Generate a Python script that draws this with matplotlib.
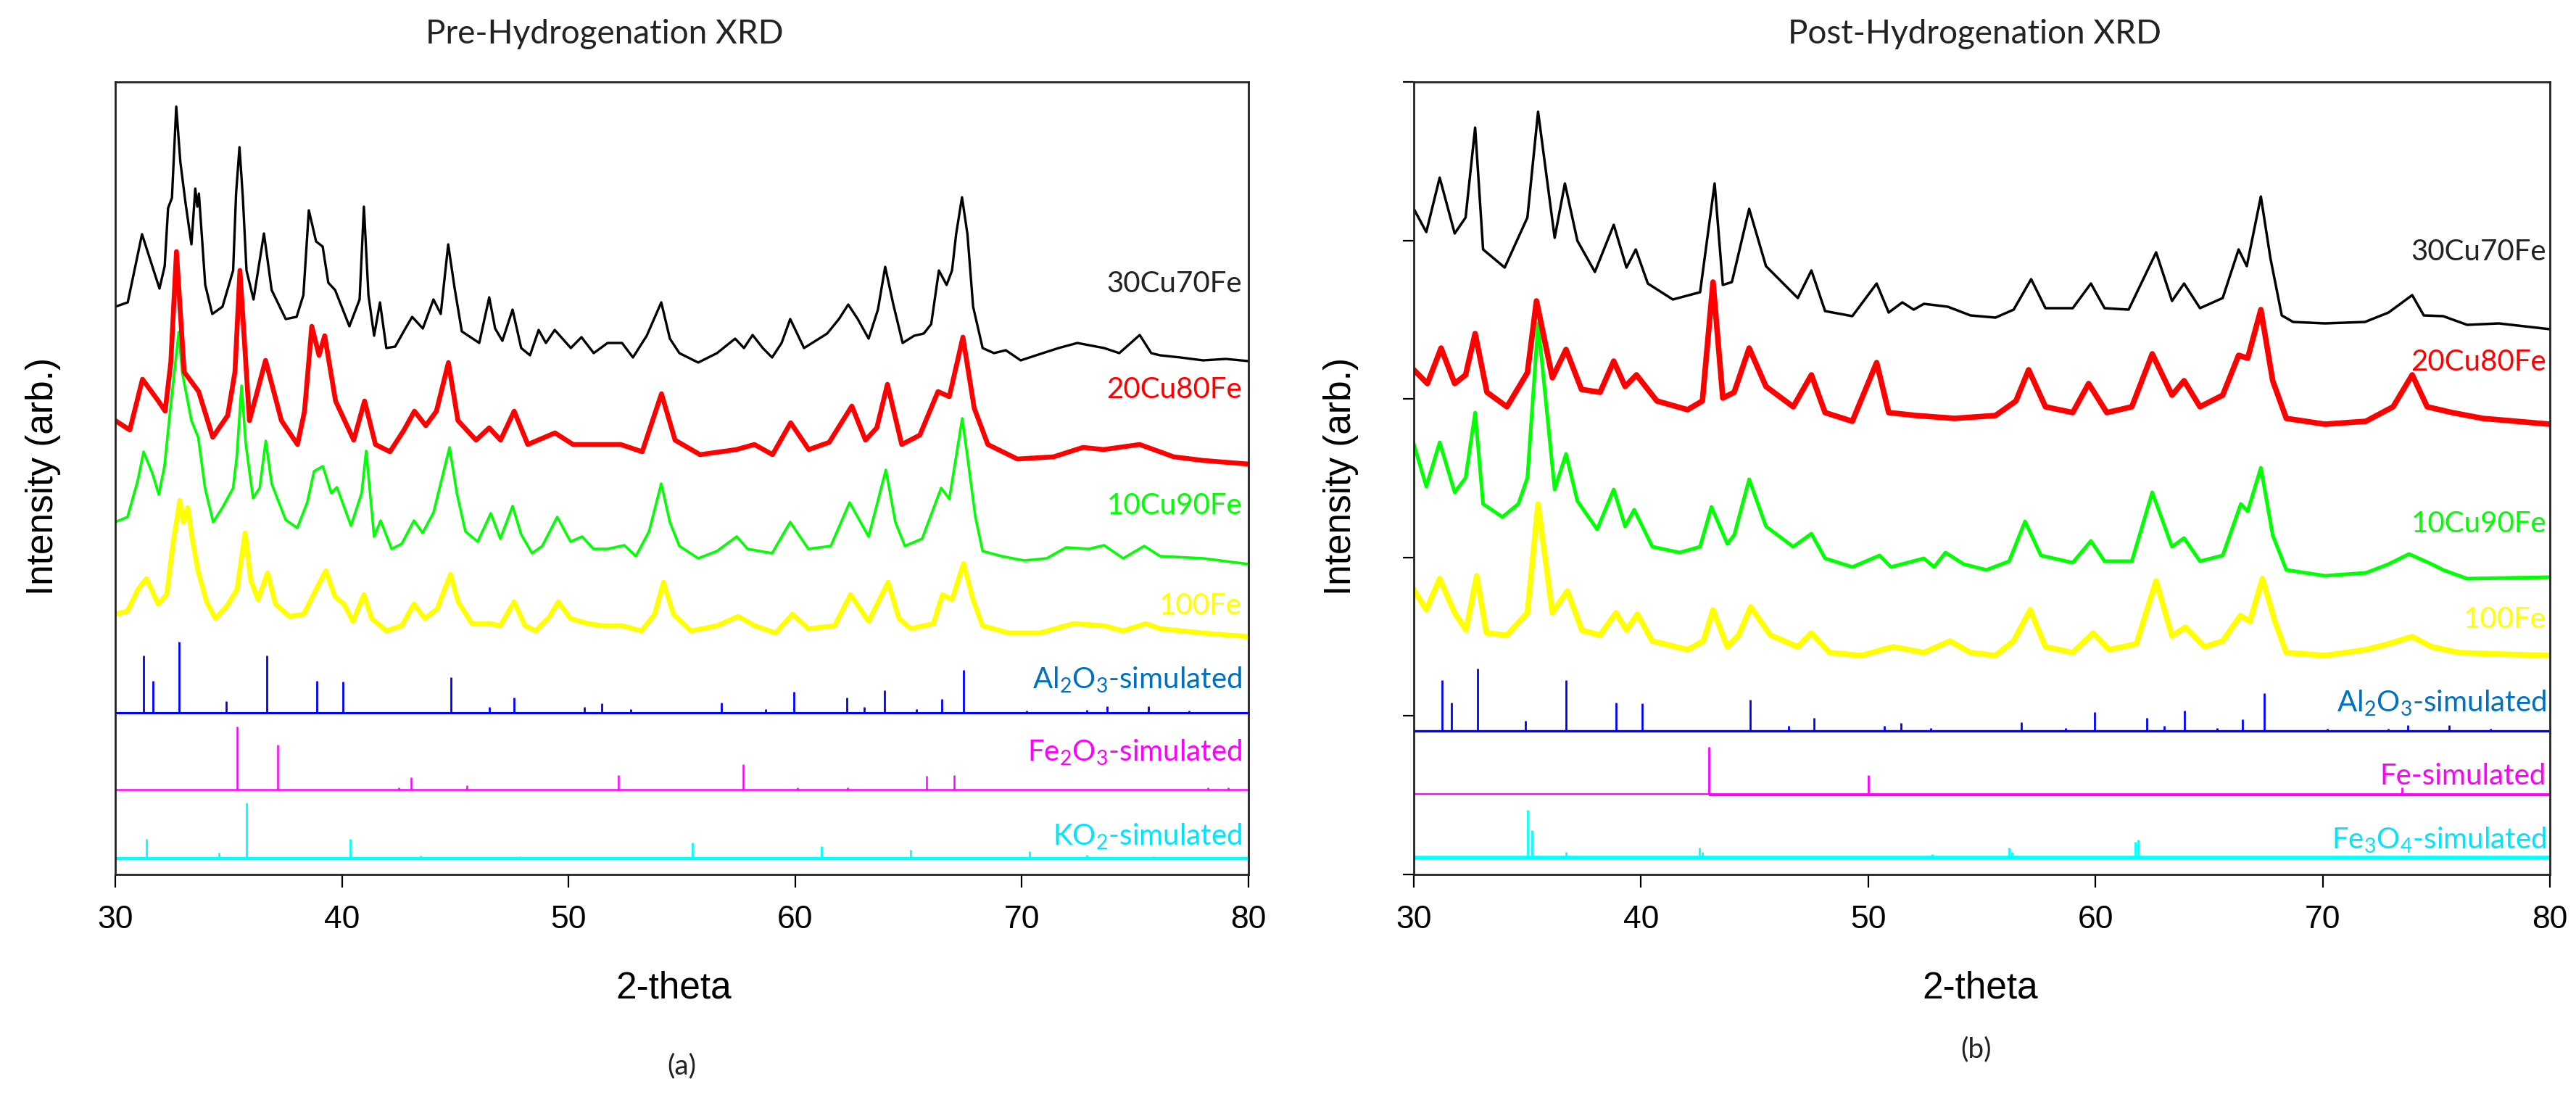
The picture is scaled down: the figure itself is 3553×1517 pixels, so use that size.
import matplotlib
matplotlib.use("Agg")
import matplotlib.pyplot as plt

plt.rcParams['font.family'] = ['Liberation Sans', 'DejaVu Sans']
plt.rcParams['mathtext.default'] = 'regular'

# ---------------- Panel (a): Pre-hydrogenation (2-theta, intensity in arb. counts incl. stacking) ----
pre_30Cu_x = [30.0, 30.55, 31.18, 31.95, 32.18, 32.33, 32.5, 32.69, 32.87, 33.1, 33.36, 33.53, 33.62, 33.69,
              33.97, 34.28, 34.73, 35.2, 35.33, 35.48, 35.63, 35.79, 36.1, 36.56, 36.9, 37.52, 38.0, 38.3,
              38.54, 38.86, 39.15, 39.4, 39.7, 40.33, 40.78, 40.97, 41.17, 41.42, 41.68, 41.96, 42.35, 42.8,
              43.1, 43.57, 44.04, 44.36, 44.69, 44.97, 45.29, 46.06, 46.5, 46.76, 47.08, 47.53, 47.91, 48.3,
              48.68, 49.0, 49.39, 50.1, 50.57, 51.11, 51.72, 52.36, 52.84, 53.45, 54.09, 54.47, 54.89, 55.72,
              56.55, 57.35, 57.74, 58.12, 58.57, 58.98, 59.4, 59.78, 60.39, 61.41, 61.93, 62.34, 62.76, 63.24,
              63.65, 63.97, 64.33, 64.74, 65.25, 65.67, 66.0, 66.34, 66.68, 66.92, 67.1, 67.36, 67.6, 67.85,
              68.27, 68.77, 69.29, 69.95, 70.63, 71.62, 72.45, 73.63, 74.3, 75.2, 75.71, 76.1, 77.0, 78.0,
              79.0, 80.0]
pre_30Cu_y = [783, 789, 883, 808, 839, 919, 933, 1059, 983, 926, 869, 946, 921, 939,
              813, 773, 783, 833, 939, 1003, 933, 833, 793, 884, 806, 766, 769, 799,
              916, 873, 866, 816, 806, 756, 793, 921, 799, 743, 789, 726, 728, 753,
              769, 753, 793, 773, 869, 809, 749, 733, 796, 753, 736, 779, 726, 716,
              751, 733, 751, 726, 741, 719, 733, 733, 713, 743, 789, 739, 719, 706,
              719, 739, 726, 744, 726, 713, 733, 766, 726, 746, 766, 786, 766, 739,
              779, 838, 786, 733, 743, 746, 759, 833, 813, 833, 883, 934, 883, 783,
              726, 719, 723, 709, 716, 726, 733, 726, 719, 744, 719, 716, 713, 709,
              711, 708]

pre_20Cu_x = [30.0, 30.64, 31.2, 31.9, 32.2, 32.45, 32.7, 33.04, 33.68, 34.3, 34.96, 35.28, 35.5, 35.92,
              36.24, 36.63, 37.33, 38.04, 38.35, 38.67, 38.99, 39.24, 39.72, 40.52, 41.0, 41.48, 42.12,
              42.74, 43.2, 43.7, 44.17, 44.7, 45.12, 45.92, 46.5, 47.0, 47.6, 48.2, 49.4, 50.2, 51.0, 52.3,
              53.25, 54.1, 54.7, 55.8, 57.4, 58.2, 59.0, 59.8, 60.6, 61.5, 62.5, 63.1, 63.6, 64.07, 64.7,
              65.5, 66.3, 66.8, 67.4, 67.9, 68.5, 69.8, 71.4, 72.7, 73.6, 75.2, 76.7, 78.0, 80.0]
pre_20Cu_y = [626, 613, 683, 653, 639, 706, 859, 693, 666, 603, 633, 693, 833, 626,
              663, 709, 626, 593, 639, 756, 716, 743, 653, 599, 653, 593, 583,
              613, 639, 619, 639, 706, 626, 599, 616, 599, 639, 593, 609, 593, 593, 593,
              583, 663, 599, 579, 586, 593, 579, 623, 586, 596, 646, 599, 616, 676, 593,
              606, 666, 659, 741, 643, 593, 573, 576, 589, 586, 593, 576, 571, 566]

pre_10Cu_x = [30.0, 30.54, 30.99, 31.25, 31.64, 31.92, 32.17, 32.4, 32.8, 32.95, 33.36, 33.66, 33.96,
              34.32, 34.73, 35.2, 35.36, 35.57, 35.76, 36.08, 36.37, 36.64, 36.9, 37.52, 38.03, 38.47,
              38.77, 39.16, 39.53, 39.78, 40.4, 40.87, 41.07, 41.42, 41.71, 42.19, 42.64, 43.18, 43.56,
              44.04, 44.75, 45.07, 45.45, 45.99, 46.57, 46.99, 47.53, 47.91, 48.39, 48.84, 49.5, 50.09,
              50.6, 51.1, 51.72, 52.46, 52.97, 53.55, 54.09, 54.47, 54.89, 55.72, 56.55, 57.42, 57.9,
              58.98, 59.78, 60.58, 61.57, 62.4, 63.24, 64.0, 64.42, 64.84, 65.6, 66.44, 66.8, 67.37,
              67.6, 67.95, 68.27, 69.1, 70.1, 71.1, 71.95, 72.96, 73.63, 74.47, 75.4, 76.1, 78.0, 80.0]
pre_10Cu_y = [486, 493, 543, 583, 553, 524, 563, 633, 748, 693, 626, 603, 533,
              486, 506, 533, 576, 674, 593, 519, 533, 598, 539, 489, 478, 513,
              556, 563, 526, 534, 481, 526, 584, 466, 488, 449, 456, 488, 471,
              499, 589, 526, 473, 459, 498, 463, 508, 469, 443, 453, 493, 459,
              466, 449, 449, 454, 439, 473, 539, 486, 453, 436, 446, 466, 449,
              443, 486, 449, 453, 513, 466, 558, 486, 453, 463, 533, 518, 629,
              576, 493, 446, 439, 433, 436, 451, 449, 454, 436, 453, 439, 436, 428]

pre_100Fe_x = [30.0, 30.54, 31.0, 31.37, 31.6, 31.89, 32.27, 32.56, 32.85, 33.0, 33.2, 33.42, 33.65,
               34.03, 34.42, 34.9, 35.37, 35.73, 35.98, 36.3, 36.72, 37.07, 37.68, 38.32, 38.86, 39.29,
               39.7, 40.09, 40.49, 40.97, 41.32, 41.96, 42.64, 43.18, 43.66, 44.2, 44.79, 45.13, 45.74,
               46.54, 46.99, 47.6, 48.08, 48.55, 49.17, 49.55, 50.09, 50.86, 51.53, 52.36, 53.22, 53.8,
               54.19, 54.63, 55.4, 56.55, 57.48, 58.22, 59.14, 59.88, 60.58, 61.74, 62.44, 63.24, 64.1,
               64.58, 65.1, 66.1, 66.5, 66.92, 67.43, 67.85, 68.27, 69.44, 70.79, 72.28, 73.63, 74.47,
               75.47, 76.1, 78.0, 80.0]
pre_100Fe_y = [359, 363, 393, 408, 393, 373, 386, 459, 516, 486, 506, 459, 419,
               376, 353, 369, 393, 471, 406, 379, 416, 373, 356, 359, 393, 419,
               383, 373, 349, 386, 353, 336, 343, 373, 353, 366, 414, 376, 346,
               346, 343, 376, 343, 336, 356, 376, 353, 346, 343, 343, 336, 359,
               403, 359, 336, 343, 356, 343, 333, 359, 339, 343, 386, 349, 403,
               353, 339, 346, 386, 379, 429, 379, 343, 333, 333, 346, 343, 336,
               346, 339, 333, 328]

# ---------------- Panel (b): Post-hydrogenation ----
post_30Cu_x = [30.0, 30.55, 31.14, 31.8, 32.28, 32.7, 33.05, 34.0, 35.0, 35.47, 36.2, 36.65, 37.2, 37.97,
               38.8, 39.36, 39.77, 40.3, 41.4, 42.6, 43.24, 43.6, 44.0, 44.76, 45.5, 46.9, 47.5, 48.1,
               49.3, 50.37, 50.9, 51.5, 52.0, 52.45, 53.5, 54.5, 55.6, 56.4, 57.17, 57.8, 59.0, 59.8,
               60.4, 61.46, 62.67, 63.37, 63.9, 64.6, 65.6, 66.3, 66.66, 67.28, 67.7, 68.2, 68.7, 70.1,
               71.86, 72.9, 73.94, 74.45, 75.3, 76.36, 77.75, 80.0]
post_30Cu_y = [918, 886, 961, 884, 906, 1030, 862, 837, 906, 1052, 878, 953, 874, 831,
               896, 837, 862, 815, 793, 803, 953, 813, 817, 918, 839, 795, 833, 777,
               770, 815, 775, 789, 779, 787, 783, 771, 768, 779, 821, 781, 781, 815,
               781, 779, 858, 791, 815, 781, 795, 862, 839, 935, 850, 771, 762, 760,
               762, 775, 799, 771, 770, 758, 760, 752]

post_20Cu_x = [30.0, 30.6, 31.2, 31.8, 32.28, 32.7, 33.22, 34.1, 35.0, 35.4, 36.1, 36.7, 37.38, 38.2,
               38.8, 39.3, 39.8, 40.7, 42.05, 42.7, 43.17, 43.6, 44.1, 44.76, 45.5, 46.7, 47.5, 48.1,
               49.3, 50.37, 50.9, 52.1, 53.8, 55.6, 56.5, 57.06, 57.8, 59.0, 59.7, 60.5, 61.6, 62.5,
               63.37, 63.9, 64.6, 65.6, 66.3, 66.7, 67.28, 67.8, 68.4, 70.1, 71.9, 73.1, 73.94, 74.6,
               75.7, 77.05, 80.0]
post_20Cu_y = [696, 677, 726, 677, 689, 746, 665, 645, 692, 791, 685, 724, 669, 665,
               708, 673, 689, 653, 641, 653, 817, 657, 665, 726, 673, 645, 689, 637,
               625, 706, 637, 633, 629, 633, 653, 696, 645, 637, 677, 637, 645, 718,
               661, 681, 645, 661, 716, 712, 779, 681, 629, 621, 625, 645, 689, 645,
               637, 629, 621]

post_10Cu_x = [30.0, 30.55, 31.14, 31.8, 32.28, 32.7, 33.05, 33.9, 34.6, 35.0, 35.47, 36.2, 36.7, 37.2,
               38.07, 38.8, 39.3, 39.7, 40.5, 41.7, 42.6, 43.1, 43.8, 44.1, 44.76, 45.5, 46.7, 47.5,
               48.1, 49.3, 50.5, 51.0, 52.45, 52.9, 53.4, 54.2, 55.2, 56.2, 56.9, 57.6, 59.0, 59.8,
               60.4, 61.6, 62.5, 63.37, 63.9, 64.6, 65.6, 66.4, 66.7, 67.28, 67.8, 68.4, 70.1, 71.9,
               72.9, 73.8, 74.8, 75.3, 76.36, 80.0]
post_10Cu_y = [594, 535, 596, 527, 547, 637, 511, 493, 511, 547, 760, 531, 580, 515,
               476, 531, 480, 503, 452, 444, 452, 507, 456, 468, 545, 480, 452, 470,
               436, 424, 440, 424, 436, 424, 444, 428, 420, 432, 487, 440, 430, 460,
               432, 432, 527, 452, 464, 432, 440, 511, 501, 561, 468, 420, 412, 416,
               428, 442, 428, 420, 408, 410]

post_100Fe_x = [30.0, 30.55, 31.14, 31.8, 32.3, 32.77, 33.2, 34.1, 35.0, 35.47, 36.1, 36.76, 37.4, 38.2,
                38.9, 39.36, 39.84, 40.5, 42.05, 42.75, 43.17, 43.8, 44.3, 44.83, 45.7, 46.9, 47.5,
                48.3, 49.7, 51.1, 52.45, 53.6, 54.5, 55.6, 56.4, 57.13, 57.8, 59.0, 59.9, 60.6, 61.8,
                62.67, 63.37, 63.96, 64.8, 65.6, 66.38, 66.8, 67.35, 67.9, 68.4, 70.1, 71.9, 72.9,
                73.94, 74.8, 76.0, 77.75, 80.0]
post_100Fe_y = [393, 365, 408, 361, 337, 412, 333, 330, 361, 511, 361, 391, 337, 330,
                361, 337, 359, 322, 310, 322, 365, 314, 330, 369, 330, 314, 333,
                306, 302, 314, 306, 322, 306, 302, 322, 365, 314, 306, 333, 310, 318,
                405, 329, 341, 314, 322, 357, 349, 408, 349, 306, 302, 310, 318,
                328, 314, 306, 304, 302]

# ---------------- Simulated reference patterns (position, relative intensity) ----
al2o3_pos = [31.24, 31.66, 32.8, 34.9, 36.7, 38.9, 40.05, 44.8, 46.5, 47.6, 50.7, 51.45, 52.75, 56.73,
             58.7, 59.95, 62.27, 63.03, 63.93, 65.35, 66.46, 67.43, 70.2, 72.87, 73.75, 75.58, 77.37]
al2o3_int = [81, 45, 100, 16, 81, 45, 44, 50, 8, 21, 8, 13, 5, 14,
             5, 30, 21, 8, 32, 5, 19, 60, 3, 4, 9, 9, 3]

fe2o3_pos = [35.39, 37.18, 42.5, 43.05, 45.5, 52.2, 57.7, 60.1, 62.3, 65.8, 67.0, 78.2, 79.1]
fe2o3_int = [87, 62, 3, 17, 6, 20, 35, 3, 3, 19, 20, 3, 3]

ko2_pos = [31.37, 34.57, 35.78, 40.35, 43.48, 47.85, 55.46, 61.17, 65.08, 70.34, 72.88, 75.8]
ko2_int = [27, 8, 77, 27, 4, 3, 22, 17, 12, 10, 5, 3]

fe_pos = [43.0, 50.0, 73.5]
fe_int = [65, 26, 9]

fe3o4_pos = [35.02, 35.2, 36.7, 42.58, 42.7, 52.8, 56.2, 56.33, 61.74, 61.88, 73.07]
fe3o4_int = [66, 38, 8, 14, 8, 5, 14, 8, 22, 25, 2]

xticks = [30, 40, 50, 60, 70, 80]

W, H = 3553, 1517
fig = plt.figure(figsize=(W / 100, H / 100), dpi=100)

LABEL_FONT = ['Lato', 'DejaVu Sans']


def setup_axes(ax, yticks):
    ax.set_xlim(30, 80)
    ax.set_ylim(0, 1093)
    ax.set_xticks(xticks)
    ax.set_xticklabels([str(t) for t in xticks])
    ax.tick_params(axis='x', direction='out', length=13, width=1.6, pad=17, labelsize=32)
    if yticks:
        ax.set_yticks([0, 218.6, 437.2, 655.8, 874.4, 1093])
        ax.set_yticklabels([])
        ax.tick_params(axis='y', direction='out', length=11, width=1.6)
    else:
        ax.set_yticks([])
    for s in ax.spines.values():
        s.set_linewidth(2.0)
        s.set_color('#222222')


def label(ax, x, y, txt, color):
    ax.text(x, y - 15, txt, ha='right', va='baseline', color=color, fontsize=29, family=LABEL_FONT)


# ---------- Panel (a)
ax_a = fig.add_axes([159 / W, 1 - 1206 / H, 1563 / W, 1093 / H])
setup_axes(ax_a, False)
ax_a.plot(pre_100Fe_x, pre_100Fe_y, color='#FFFF00', lw=4.8)
ax_a.plot(pre_10Cu_x, pre_10Cu_y, color='#00FF00', lw=2.6)
ax_a.plot(pre_20Cu_x, pre_20Cu_y, color='#FF0000', lw=4.8)
ax_a.plot(pre_30Cu_x, pre_30Cu_y, color='black', lw=2.4)

base_al_a, base_fe2o3, base_ko2 = 223, 117, 22
ax_a.hlines(base_al_a, 30, 80, color='#0000FF', lw=2.2)
ax_a.vlines(al2o3_pos, base_al_a, [base_al_a + 0.98 * v for v in al2o3_int], color='#0000FF', lw=2.0)
ax_a.hlines(base_fe2o3, 30, 80, color='#FF00FF', lw=1.8)
ax_a.vlines(fe2o3_pos, base_fe2o3, [base_fe2o3 + v for v in fe2o3_int], color='#FF00FF', lw=1.8)
ax_a.hlines(base_ko2, 30, 80, color='#00FFFF', lw=3.2)
ax_a.vlines(ko2_pos, base_ko2, [base_ko2 + v for v in ko2_int], color='#00FFFF', lw=2.0)

label(ax_a, 79.71, 818, '30Cu70Fe', '#222222')
label(ax_a, 79.71, 672, '20Cu80Fe', '#FF0000')
label(ax_a, 79.71, 512, '10Cu90Fe', '#00FF00')
label(ax_a, 79.71, 374, '100Fe', '#FFFF00')
label(ax_a, 79.71, 271, 'Al$_2$O$_3$-simulated', '#0070C0')
label(ax_a, 79.71, 171, 'Fe$_2$O$_3$-simulated', '#FF00FF')
label(ax_a, 79.71, 55, 'KO$_2$-simulated', '#00E5FF')

# ---------- Panel (b)
ax_b = fig.add_axes([1950 / W, 1 - 1206 / H, 1567 / W, 1093 / H])
setup_axes(ax_b, True)
ax_b.plot(post_100Fe_x, post_100Fe_y, color='#FFFF00', lw=5.5)
ax_b.plot(post_10Cu_x, post_10Cu_y, color='#00FF00', lw=3.6)
ax_b.plot(post_20Cu_x, post_20Cu_y, color='#FF0000', lw=5.5)
ax_b.plot(post_30Cu_x, post_30Cu_y, color='black', lw=2.5)

base_al_b, base_fe, base_fe3o4 = 198, 111, 23
ax_b.hlines(base_al_b, 30, 80, color='#0000FF', lw=2.4)
ax_b.vlines(al2o3_pos, base_al_b, [base_al_b + 0.86 * v for v in al2o3_int], color='#0000FF', lw=2.0)
ax_b.hlines(base_fe + 0.5, 30, fe_pos[0], color='#FF00FF', lw=1.6)
ax_b.hlines(base_fe - 1, fe_pos[0], 80, color='#FF00FF', lw=3.0)
ax_b.vlines(fe_pos, base_fe, [base_fe + v for v in fe_int], color='#FF00FF', lw=2.0)
ax_b.hlines(base_fe3o4, 30, 80, color='#00FFFF', lw=4.0)
ax_b.vlines(fe3o4_pos, base_fe3o4, [base_fe3o4 + v for v in fe3o4_int], color='#00FFFF', lw=2.0)

label(ax_b, 79.84, 862, '30Cu70Fe', '#222222')
label(ax_b, 79.84, 710, '20Cu80Fe', '#FF0000')
label(ax_b, 79.84, 487, '10Cu90Fe', '#00FF00')
label(ax_b, 79.84, 355, '100Fe', '#FFFF00')
label(ax_b, 79.84, 239, 'Al$_2$O$_3$-simulated', '#0070C0')
label(ax_b, 79.84, 139, 'Fe-simulated', '#FF00FF')
label(ax_b, 79.84, 50, 'Fe$_3$O$_4$-simulated', '#00E5FF')

# ---------- Figure texts
def ftext(x, y, s, **kw):
    fig.text(x / W, 1 - y / H, s, **kw)

ftext(834, 47, 'Pre-Hydrogenation XRD', ha='center', va='center', fontsize=33, family=LABEL_FONT, color='#222222')
ftext(2724, 47, 'Post-Hydrogenation XRD', ha='center', va='center', fontsize=33, family=LABEL_FONT, color='#222222')
ftext(60, 657, 'Intensity (arb.)', ha='center', va='center', rotation=90, fontsize=37)
ftext(1850, 657, 'Intensity (arb.)', ha='center', va='center', rotation=90, fontsize=37)
ftext(929, 1363, '2-theta', ha='center', va='center', fontsize=37)
ftext(2731, 1363, '2-theta', ha='center', va='center', fontsize=37)
ftext(940, 1470, '(a)', ha='center', va='center', fontsize=28, family=LABEL_FONT, color='#222222')
ftext(2726, 1447, '(b)', ha='center', va='center', fontsize=28, family=LABEL_FONT, color='#222222')

fig.savefig('out.png', dpi=100)
